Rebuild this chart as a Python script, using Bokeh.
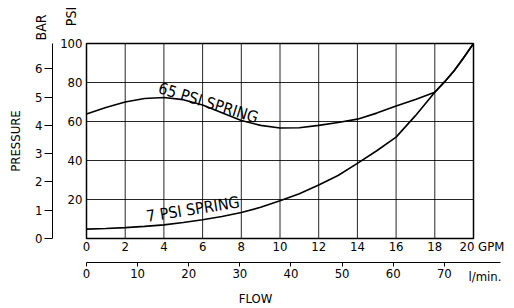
from bokeh.plotting import figure
from bokeh.models import LinearAxis, Range1d, FixedTicker, Label
from bokeh.embed import file_html
from bokeh.resources import INLINE
import math

# ---- data ----
flow_gpm_65 = [0, 1, 2, 3, 4, 5, 6, 7, 8, 9, 10, 11, 12, 13, 14, 15, 16, 17, 18, 18.5, 19, 19.5, 20]
psi_65 = [63.8, 67.2, 70.0, 71.8, 72.3, 71.2, 68.5, 64.5, 60.5, 58.0, 56.7, 56.8, 58.0, 59.5, 61.2, 64.3, 67.9, 71.3, 75.0, 80.3, 86.0, 92.8, 100.0]
flow_gpm_7 = [0, 1, 2, 3, 4, 5, 6, 7, 8, 9, 10, 11, 12, 13, 14, 15, 16, 17, 18, 18.5, 19, 19.5, 20]
psi_7 = [4.8, 5.1, 5.6, 6.2, 7.0, 8.2, 9.6, 11.3, 13.3, 16.0, 19.3, 23.0, 27.4, 32.3, 38.5, 45.0, 52.0, 63.0, 75.0, 80.3, 86.0, 92.8, 100.0]

psi_ticks = [20, 40, 60, 80, 100]
bar_ticks = [0, 1, 2, 3, 4, 5, 6]
gpm_ticks = [0, 2, 4, 6, 8, 10, 12, 14, 16, 18, 20]
lpm_ticks = [0, 10, 20, 30, 40, 50, 60, 70]

PSI_MIN = 0
PSI_MAX = max(psi_ticks)
GPM_MIN = min(gpm_ticks)
GPM_MAX = max(gpm_ticks)
PSI_PER_BAR = 14.5038
LPM_PER_GPM = 3.78541

# ---- layout (pixels) ----
W, H = 510, 306
BOX_L, BOX_R, BOX_T, BOX_B = 86, 473, 43, 238
FONT = "DejaVu Sans Condensed"
FS = "13px"


def gx(px):  # canvas x pixel -> GPM
    return GPM_MIN + (px - BOX_L) * (GPM_MAX - GPM_MIN) / (BOX_R - BOX_L)


def py(px):  # canvas y pixel -> PSI
    return PSI_MIN + (BOX_B - px) * (PSI_MAX - PSI_MIN) / (BOX_B - BOX_T)


p = figure(width=W, height=H, x_range=Range1d(gx(0), gx(W)), y_range=Range1d(py(H), py(0)),
           output_backend="svg", toolbar_location=None,
           x_axis_location=None, y_axis_location=None,
           min_border_left=0, min_border_right=0, min_border_top=0, min_border_bottom=0)
p.background_fill_color = "white"
p.border_fill_color = "white"
p.outline_line_color = None
p.xgrid.visible = False
p.ygrid.visible = False

p.extra_y_ranges = {"bar": Range1d(py(H) / PSI_PER_BAR, py(0) / PSI_PER_BAR)}
p.extra_x_ranges = {"lpm": Range1d(gx(0) * LPM_PER_GPM, gx(W) * LPM_PER_GPM)}


def style(ax, standoff, tick_out=0):
    ax.major_tick_out = tick_out
    ax.major_tick_in = 0
    ax.minor_tick_line_color = None
    ax.major_label_standoff = standoff
    ax.major_label_text_font = FONT
    ax.major_label_text_font_size = FS
    ax.major_label_text_color = "black"
    ax.major_tick_line_color = "black" if tick_out else None
    ax.axis_line_color = "black"


# grid and chart box
p.segment(x0=gpm_ticks, y0=[PSI_MIN] * len(gpm_ticks), x1=gpm_ticks, y1=[PSI_MAX] * len(gpm_ticks),
          line_color="black", line_alpha=0.85, line_width=1)
p.segment(x0=[GPM_MIN] * len(psi_ticks), y0=psi_ticks, x1=[GPM_MAX] * len(psi_ticks), y1=psi_ticks,
          line_color="black", line_alpha=0.85, line_width=1)
p.quad(left=[GPM_MIN], right=[GPM_MAX], bottom=[PSI_MIN], top=[PSI_MAX],
       fill_color=None, line_color="black", line_width=1.5)

# PSI axis along the left side of the chart box
psi_axis = LinearAxis(fixed_location=GPM_MIN, bounds=(PSI_MIN, PSI_MAX), ticker=FixedTicker(ticks=psi_ticks))
style(psi_axis, 4)
psi_axis.axis_line_color = None
p.add_layout(psi_axis, "left")

# BAR axis further left
bar_axis = LinearAxis(y_range_name="bar", fixed_location=gx(52), bounds=(PSI_MIN, PSI_MAX / PSI_PER_BAR),
                      ticker=FixedTicker(ticks=bar_ticks), axis_label="PRESSURE")
style(bar_axis, 2, tick_out=8)
bar_axis.axis_label_text_font = FONT
bar_axis.axis_label_text_font_size = FS
bar_axis.axis_label_text_font_style = "normal"
bar_axis.axis_label_text_color = "black"
bar_axis.axis_label_standoff = 9
p.add_layout(bar_axis, "left")

# GPM axis along the bottom of the chart box (the last label carries the unit, see below)
gpm_axis = LinearAxis(fixed_location=PSI_MIN, bounds=(GPM_MIN, GPM_MAX), ticker=FixedTicker(ticks=gpm_ticks))
style(gpm_axis, 3)
gpm_axis.axis_line_color = None
gpm_axis.major_label_overrides = {GPM_MAX: ""}
p.add_layout(gpm_axis, "below")

# l/min axis below it
lpm_axis = LinearAxis(x_range_name="lpm", fixed_location=py(262), bounds=(0, 81),
                      ticker=FixedTicker(ticks=lpm_ticks))
style(lpm_axis, 2, tick_out=4)
p.add_layout(lpm_axis, "below")

# curves
p.line(flow_gpm_65, psi_65, line_color="black", line_width=1.6)
p.line(flow_gpm_7, psi_7, line_color="black", line_width=1.6)


def lab(text, x, y, angle=0.0, size=FS, align="center"):
    p.add_layout(Label(x=x, y=y, text=text, angle=angle,
                       text_align=align, text_baseline="middle", text_font=FONT,
                       text_font_size=size, text_color="black"))


lab("65 PSI SPRING", 6.3, 69.6, angle=-0.30, size="16px")
lab("7 PSI SPRING", 5.5, 15.0, angle=0.157, size="16px")
lab(f"{GPM_MAX} GPM", gx(459), py(245.5), align="left")
lab("l/min.", gx(468), py(275.5), align="left")
lab("FLOW", gx(255), py(297.5))
lab("BAR", gx(40), py(27), angle=math.pi / 2, size="14px")
lab("PSI", gx(70), py(16), angle=math.pi / 2, size="14px")

open("out.html", "w").write(file_html(p, INLINE))
